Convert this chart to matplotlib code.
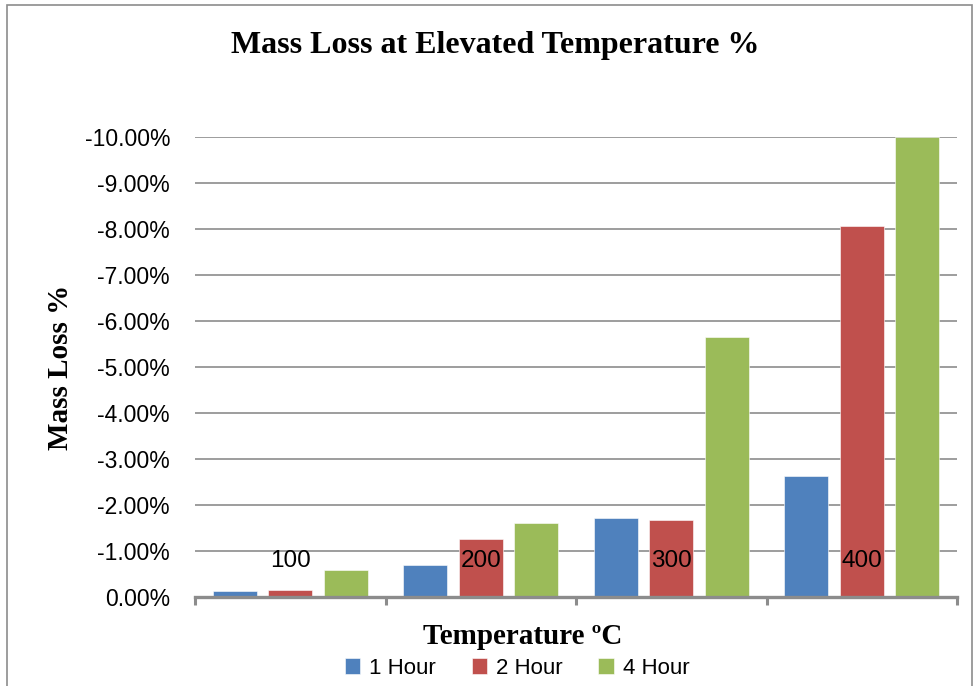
import matplotlib
matplotlib.use('Agg')
import matplotlib.pyplot as plt
from matplotlib.patches import Rectangle

# mass loss (fraction, negative = loss) per temperature and exposure time
temps = ['100', '200', '300', '400']
series = ['1 Hour', '2 Hour', '4 Hour']
loss_1h = [-0.0013, -0.0070, -0.0172, -0.0263]
loss_2h = [-0.0015, -0.0126, -0.0167, -0.0807]
loss_4h = [-0.0059, -0.0161, -0.0565, -0.1000]
yticks = [0, -0.01, -0.02, -0.03, -0.04, -0.05, -0.06, -0.07, -0.08, -0.09, -0.10]

colors = ['#4F81BD', '#C0504D', '#9BBB59']
grid_col = '#8C8C8C'
serif = 'Liberation Serif'
sans = 'Liberation Sans'

fig = plt.figure(figsize=(9.74, 6.86), dpi=100)
ax = fig.add_axes([195/974, 1-597/686, (957-195)/974, (597-137)/686])

# outer chart border
fig.patches.append(Rectangle((7/974, -0.05), 965/974, 1.05 - 5/686,
                             transform=fig.transFigure, fill=False,
                             edgecolor='#8C8C8C', linewidth=1.2))

w = 0.232
step = 0.292
x = list(range(len(temps)))
for i, (name, vals) in enumerate(zip(series, [loss_1h, loss_2h, loss_4h])):
    pos = [xi + (i - 1) * step for xi in x]
    ax.bar(pos, vals, width=w, color=colors[i], label=name, zorder=3,
           edgecolor='white', linewidth=0.4)

ax.set_xlim(-0.5, 3.5)
ax.set_ylim(0, -0.10)
ax.set_yticks(yticks)
ax.set_yticklabels(['%.2f%%' % (v * 100) if v != 0 else '0.00%' for v in yticks],
                   fontsize=16.5, family=sans)
ax.tick_params(axis='y', length=0, pad=18)
ax.yaxis.grid(True, color=grid_col, linewidth=1.2, zorder=0)
ax.set_axisbelow(True)

# category boundaries as ticks, temperature labels inside the plot
ax.set_xticks([-0.5, 0.5, 1.5, 2.5, 3.5])
ax.set_xticklabels([])
ax.tick_params(axis='x', length=6, width=2.2, color=grid_col, direction='out')
for xi, t in zip(x, temps):
    ax.text(xi, -0.0078, t, ha='center', va='center', fontsize=17.5, family=sans,
            zorder=4)

for s in ['left', 'right', 'top']:
    ax.spines[s].set_visible(False)
ax.spines['bottom'].set_color(grid_col)
ax.spines['bottom'].set_linewidth(2.4)
ax.spines['bottom'].set_zorder(5)

fig.text(495/974, 1-45/686, 'Mass Loss at Elevated Temperature %', ha='center',
         va='center', fontsize=23, fontweight='bold', family=serif)
fig.text(60/974, 1-367/686, 'Mass Loss %', ha='center', va='center',
         rotation=90, fontsize=21, fontweight='bold', family=serif)
fig.text(523/974, 1-637/686, 'Temperature ºC', ha='center', va='center',
         fontsize=21, fontweight='bold', family=serif)

fig.legend(loc='center', bbox_to_anchor=(517/974, 1-668/686), ncol=3,
           frameon=False, prop={'family': sans, 'size': 16},
           handlelength=0.7, handleheight=0.7, handletextpad=0.4,
           columnspacing=1.6, borderpad=0)

fig.savefig('out.png', dpi=100)
